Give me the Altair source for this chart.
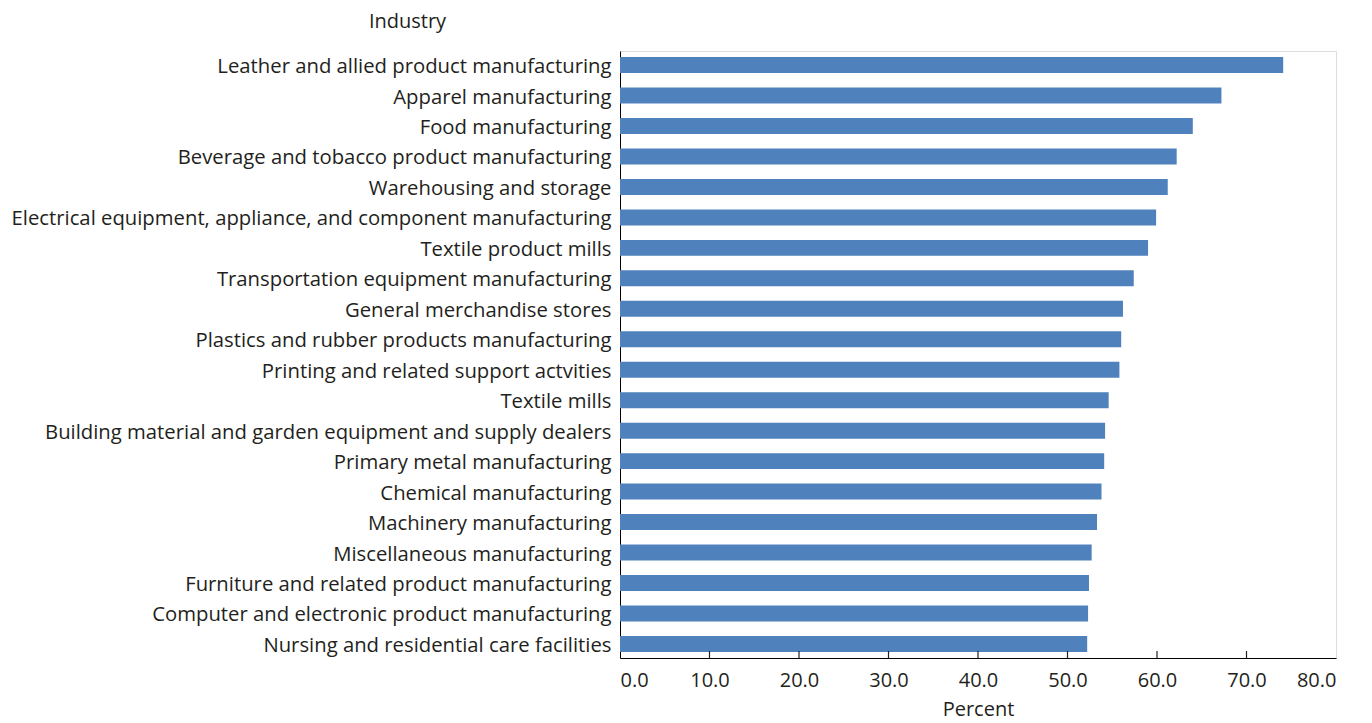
import pandas as pd
import altair as alt

# Industries, top to bottom as in the chart
industries = [
    "Leather and allied product manufacturing",
    "Apparel manufacturing",
    "Food manufacturing",
    "Beverage and tobacco product manufacturing",
    "Warehousing and storage",
    "Electrical equipment, appliance, and component manufacturing",
    "Textile product mills",
    "Transportation equipment manufacturing",
    "General merchandise stores",
    "Plastics and rubber products manufacturing",
    "Printing and related support actvities",
    "Textile mills",
    "Building material and garden equipment and  supply dealers",
    "Primary metal manufacturing",
    "Chemical manufacturing",
    "Machinery manufacturing",
    "Miscellaneous manufacturing",
    "Furniture and related product manufacturing",
    "Computer and electronic product manufacturing",
    "Nursing and residential care facilities",
]
percent = [74.1, 67.2, 64.0, 62.2, 61.2, 59.9, 59.0, 57.4, 56.2, 56.0,
           55.8, 54.6, 54.2, 54.1, 53.8, 53.3, 52.7, 52.4, 52.3, 52.2]
x_ticks = [0, 10, 20, 30, 40, 50, 60, 70, 80]

df = pd.DataFrame({"Industry": industries, "Percent": percent})
ticks_df = pd.DataFrame({"v": x_ticks[1:-1]})

FONT = "Open Sans"
TXT = "#231f20"
FS = 20.3
W, H = 716, 607

bars = (
    alt.Chart(df)
    .mark_bar(color="#4f81bd")
    .encode(
        x=alt.X(
            "Percent:Q",
            scale=alt.Scale(domain=[0, 80], nice=False),
            axis=alt.Axis(
                title="Percent",
                values=x_ticks,
                format=".1f",
                grid=False,
                ticks=False,
                domainColor="black",
                labelFont=FONT,
                labelFontSize=20,
                labelColor=TXT,
                labelPadding=12,
                titleFont=FONT,
                titleFontSize=20,
                titleFontWeight="normal",
                titleColor=TXT,
                titlePadding=9,
            ),
        ),
        y=alt.Y(
            "Industry:N",
            sort=industries,
            scale=alt.Scale(paddingInner=0.475, paddingOuter=0.2),
            axis=alt.Axis(
                title="Industry",
                ticks=False,
                domainColor="black",
                labelFont=FONT,
                labelFontSize=FS,
                labelColor=TXT,
                labelPadding=9,
                labelOffset=2,
                labelLimit=0,
                titleFont=FONT,
                titleFontSize=20,
                titleFontWeight="normal",
                titleColor=TXT,
                titleAngle=0,
                titleAlign="center",
                titleBaseline="middle",
                titleX=-213,
                titleY=-30,
            ),
        ),
    )
)

# small tick marks pointing up into the plot
inner_ticks = (
    alt.Chart(ticks_df)
    .mark_rule(color="#222222", strokeWidth=1.2)
    .encode(
        x=alt.X("v:Q", scale=alt.Scale(domain=[0, 80], nice=False)),
        y=alt.value(H - 7),
        y2=alt.value(H),
    )
)

chart = (
    alt.layer(bars, inner_ticks)
    .properties(
        width=W,
        height=H,
        autosize=alt.AutoSizeParams(type="none"),
        padding={"left": 612, "top": 43, "right": 28, "bottom": 66},
    )
    .configure_view(stroke="black", strokeWidth=1, fill="white")
    .configure(background="white")
)

chart.save("out.html", embed_options={"renderer": "svg", "actions": False})
